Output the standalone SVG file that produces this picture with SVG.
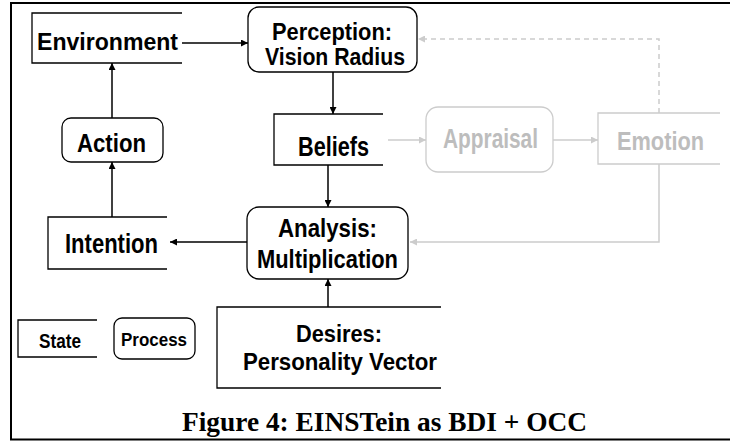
<svg xmlns="http://www.w3.org/2000/svg" width="730" height="441" viewBox="0 0 730 441">
  <style>
    .box { fill: #ffffff; stroke: #000000; stroke-width: 1.3; }
    .open { fill: none; stroke: #000000; stroke-width: 1.3; }
    .gbox { fill: #ffffff; stroke: #cccccc; stroke-width: 1.3; }
    .gopen { fill: none; stroke: #cccccc; stroke-width: 1.3; }
    .lbl { font-family: "Liberation Sans", Arial, sans-serif; font-weight: bold; fill: #000000; text-anchor: middle; }
    .glbl { font-family: "Liberation Sans", Arial, sans-serif; font-weight: bold; fill: #bdbdbd; text-anchor: middle; }
    .edge { fill: none; stroke: #000000; stroke-width: 1.5; }
    .gedge { fill: none; stroke: #cccccc; stroke-width: 1.5; }
    .dash { stroke-dasharray: 5 4; }
    .caption { font-family: "Liberation Serif", "Times New Roman", serif; font-weight: bold; font-size: 27px; fill: #000000; text-anchor: middle; }
  </style>
  <defs>
    <marker id="ah" viewBox="0 0 10 10" refX="10" refY="5" markerWidth="7" markerHeight="7" markerUnits="userSpaceOnUse" orient="auto">
      <path d="M0,0 L10,5 L0,10 z" fill="#000000"/>
    </marker>
    <marker id="gah" viewBox="0 0 10 10" refX="10" refY="5" markerWidth="7" markerHeight="7" markerUnits="userSpaceOnUse" orient="auto">
      <path d="M0,0 L10,5 L0,10 z" fill="#cccccc"/>
    </marker>
  </defs>

  <rect width="730" height="441" fill="#ffffff"/>

  <!-- figure frame: left, top and bottom rules -->
  <path d="M730,3 L11,3 L11,439.5 L730,439.5" fill="none" stroke="#000000" stroke-width="2"/>

  <!-- connectors -->
  <g id="connectors">
    <path class="edge" d="M182,43 L248,43" marker-end="url(#ah)"/>
    <path class="edge" d="M333,72 L333,114" marker-end="url(#ah)"/>
    <path class="edge" d="M328,165 L328,207" marker-end="url(#ah)"/>
    <path class="edge" d="M328,307 L328,279" marker-end="url(#ah)"/>
    <path class="edge" d="M247,242 L170,242" marker-end="url(#ah)"/>
    <path class="edge" d="M112,217 L112,162" marker-end="url(#ah)"/>
    <path class="edge" d="M112,118 L112,63" marker-end="url(#ah)"/>
    <path class="gedge" d="M388,140 L426,140" marker-end="url(#gah)"/>
    <path class="gedge" d="M553,140 L598,140" marker-end="url(#gah)"/>
    <path class="gedge" d="M659,164 L659,242 L410,242" marker-end="url(#gah)"/>
    <path class="gedge dash" d="M659,113 L659,39 L418,39" marker-end="url(#gah)"/>
  </g>

  <g id="environment">
    <path class="open" d="M182,13 L32,13 L32,63 L182,63"/>
    <text class="lbl" x="107.5" y="50" font-size="24" textLength="141" lengthAdjust="spacingAndGlyphs">Environment</text>
  </g>

  <g id="perception">
    <rect class="box" x="248" y="7" width="169" height="65" rx="11"/>
    <text class="lbl" x="332" y="40" font-size="23" textLength="120" lengthAdjust="spacingAndGlyphs">Perception:</text>
    <text class="lbl" x="335" y="65" font-size="23" textLength="140" lengthAdjust="spacingAndGlyphs">Vision Radius</text>
  </g>

  <g id="beliefs">
    <path class="open" d="M383,114 L274,114 L274,165 L383,165"/>
    <text class="lbl" x="333.5" y="156" font-size="28" textLength="71" lengthAdjust="spacingAndGlyphs">Beliefs</text>
  </g>

  <g id="appraisal">
    <rect class="gbox" x="426" y="107" width="127" height="65" rx="12"/>
    <text class="glbl" x="490.5" y="148" font-size="27" textLength="95" lengthAdjust="spacingAndGlyphs">Appraisal</text>
  </g>

  <g id="emotion">
    <path class="gopen" d="M720,113 L598,113 L598,164 L720,164"/>
    <text class="glbl" x="660.5" y="150" font-size="25" textLength="87" lengthAdjust="spacingAndGlyphs">Emotion</text>
  </g>

  <g id="action">
    <rect class="box" x="62" y="118" width="101" height="44" rx="9"/>
    <text class="lbl" x="111.5" y="152" font-size="26" textLength="69" lengthAdjust="spacingAndGlyphs">Action</text>
  </g>

  <g id="intention">
    <path class="open" d="M167,217 L48,217 L48,269 L167,269"/>
    <text class="lbl" x="111.5" y="253" font-size="28" textLength="93" lengthAdjust="spacingAndGlyphs">Intention</text>
  </g>

  <g id="analysis">
    <rect class="box" x="247" y="207" width="161" height="72" rx="12"/>
    <text class="lbl" x="327.5" y="237" font-size="25" textLength="99" lengthAdjust="spacingAndGlyphs">Analysis:</text>
    <text class="lbl" x="327.5" y="268" font-size="25" textLength="141" lengthAdjust="spacingAndGlyphs">Multiplication</text>
  </g>

  <g id="desires">
    <path class="open" d="M441,307 L217,307 L217,388 L441,388"/>
    <text class="lbl" x="339" y="342" font-size="23" textLength="86" lengthAdjust="spacingAndGlyphs">Desires:</text>
    <text class="lbl" x="340" y="370" font-size="23" textLength="194" lengthAdjust="spacingAndGlyphs">Personality Vector</text>
  </g>

  <!-- legend -->
  <g id="legend-state">
    <path class="open" d="M97,320 L18,320 L18,357 L97,357"/>
    <text class="lbl" x="60" y="348" font-size="20" textLength="42" lengthAdjust="spacingAndGlyphs">State</text>
  </g>
  <g id="legend-process">
    <rect class="box" x="114" y="318" width="81" height="41" rx="8"/>
    <text class="lbl" x="154" y="346" font-size="19" textLength="66" lengthAdjust="spacingAndGlyphs">Process</text>
  </g>

  <text class="caption" x="384.5" y="431" textLength="405" lengthAdjust="spacingAndGlyphs">Figure 4: EINSTein as BDI + OCC</text>
</svg>
